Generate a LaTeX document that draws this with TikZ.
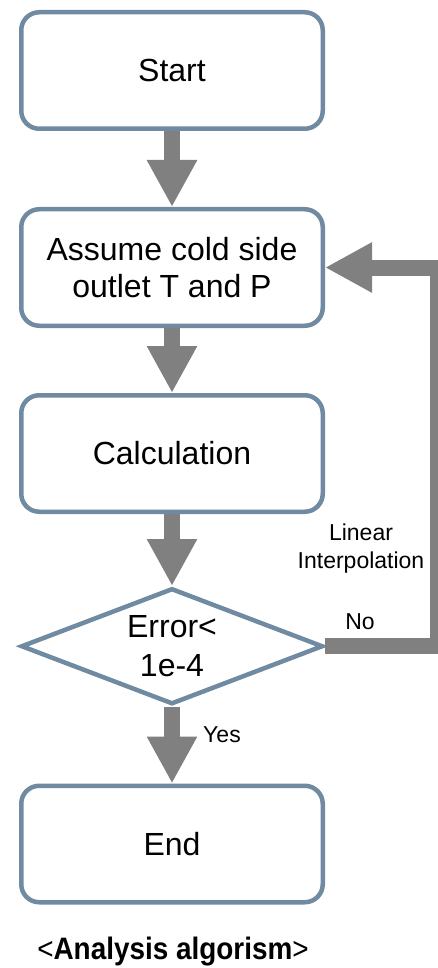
\documentclass[tikz,border=0pt]{standalone}
\usepackage{fontspec}
\setmainfont{Liberation Sans}
\newfontfamily\captfont[FakeStretch=0.9]{Liberation Sans}
\usepackage{tikz}
\usetikzlibrary{arrows.meta,positioning,shapes.geometric}
\definecolor{edge}{HTML}{6F8AA1}
\definecolor{flow}{HTML}{808080}
\tikzset{
  prc/.style={draw=edge, line width=4.5pt, rounded corners=18pt, fill=white,
              minimum width=301.5pt, minimum height=116.5pt, inner sep=0pt,
              align=center, font=\fontsize{32}{37}\selectfont},
  dec/.style={diamond, draw=edge, line width=4.5pt, fill=white, aspect=2.5,
              minimum width=302pt, minimum height=116pt, inner sep=0pt,
              align=center, font=\fontsize{32}{39}\selectfont},
  ar/.style={-{Triangle[length=47pt,width=47pt]}, line width=16pt, draw=flow},
  fb/.style={ar, line join=miter},
  lbl/.style={font=\fontsize{23}{28}\selectfont, align=center},
  capt/.style={font=\captfont\fontsize{31}{31}\selectfont},
}

\begin{document}
\begin{tikzpicture}[x=1pt, y=-1pt]
  \path[use as bounding box, fill=white] (0,0) rectangle (438,968);

  \node[prc] (start) at (172,70.5) {Start};
  \node[prc, below=76pt of start] (assume) {Assume cold side\\outlet T and P};
  \node[prc, below=65pt of assume] (calc) {Calculation};
  \node[dec, below=72pt of calc] (err) {Error<\\1e-4};
  \node[prc, below=77pt of err] (stop) {End};

  \draw[ar] (start) -- (assume);
  \draw[ar] (assume) -- (calc);
  \draw[ar] (calc) -- (err);
  \draw[ar] (err) -- (stop);
  \draw[fb] (err.east) -- ++(113,0) |- (assume.east);

  \node[lbl] (interp) at (361,549) {Linear\\Interpolation};
  \node[lbl] (no) at (360,622) {No};
  \node[lbl] (yes) at (222,735) {Yes};

  \node[capt, anchor=base] (title) at (173,959) {<\textbf{Analysis algorism}>};
\end{tikzpicture}
\end{document}
